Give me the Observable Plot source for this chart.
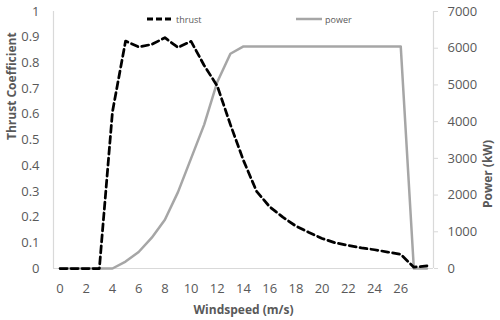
<!DOCTYPE html>
<html>
<head>
<meta charset="utf-8">
<script src="https://cdn.jsdelivr.net/npm/d3@7"></script>
<script src="https://cdn.jsdelivr.net/npm/@observablehq/plot@0.6"></script>
<style>
  body { margin: 0; background: #fff; }
  #wrap { position: relative; width: 500px; height: 320px; font-family: "Open Sans", sans-serif; }
  .leg { position: absolute; top: 12px; font-size: 9px; color: #595959; display: flex; align-items: center; }
  .leg svg { margin-right: 3px; }
</style>
</head>
<body>
<div id="wrap"></div>
<script>
const windspeed = d3.range(0, 29);
const thrust = [0, 0, 0, 0, 0.61, 0.885, 0.862, 0.872, 0.898, 0.86, 0.884, 0.79, 0.71, 0.56, 0.42, 0.30, 0.24, 0.20, 0.165, 0.14, 0.117, 0.10, 0.09, 0.08, 0.073, 0.064, 0.055, 0.005, 0.01];
const power = [0, 0, 0, 0, 0, 190, 450, 840, 1330, 2080, 3000, 3920, 5080, 5850, 6050, 6050, 6050, 6050, 6050, 6050, 6050, 6050, 6050, 6050, 6050, 6050, 6050, 0, 0];
const xTicks = d3.range(0, 27, 2);
const leftTicks = d3.range(0, 11).map(i => i / 10);
const powerTicks = d3.range(0, 8).map(i => i * 1000);
const powerMax = 7000;

const rows = windspeed.map((w, i) => ({w, thrust: thrust[i], power: power[i] / powerMax}));

const gray = "#595959";
const axisLine = "#d9d9d9";

const chart = Plot.plot({
  width: 500,
  height: 320,
  marginLeft: 53,
  marginRight: 67,
  marginTop: 11,
  marginBottom: 52,
  style: {fontFamily: "'Open Sans', sans-serif", fontSize: "13px", color: gray, background: "#fff"},
  x: {domain: [-0.5, 28.5]},
  y: {domain: [0, 1]},
  marks: [
    Plot.ruleY([0], {stroke: axisLine, strokeWidth: 1.2}),
    Plot.ruleX([-0.5, 28.5], {stroke: axisLine, strokeWidth: 1.2}),
    Plot.axisX({ticks: xTicks, tickSize: 0, tickPadding: 15, label: null, tickFormat: d => String(d)}),
    Plot.axisY({ticks: leftTicks, tickSize: 0, tickPadding: 14, label: null, tickFormat: d => String(+d.toFixed(1))}),
    Plot.axisY({anchor: "right", ticks: powerTicks.map(v => v / powerMax), tickSize: 4, tickPadding: 10, stroke: axisLine, label: null, tickFormat: d => String(Math.round(d * powerMax))}),
    Plot.line(rows, {x: "w", y: "power", stroke: "#a6a6a6", strokeWidth: 2.5}),
    Plot.line(rows, {x: "w", y: "thrust", stroke: "#000", strokeWidth: 2.75, strokeDasharray: "7,4"}),
    Plot.text(["Windspeed (m/s)"], {frameAnchor: "bottom", dy: 45, text: d => d, fontWeight: "bold", fontSize: 12, fill: gray}),
    Plot.text(["Thrust Coefficient"], {frameAnchor: "left", dx: -41, rotate: -90, text: d => d, fontWeight: "bold", fontSize: 12, fill: gray}),
    Plot.text(["Power (kW)"], {frameAnchor: "right", dx: 55, rotate: -90, text: d => d, fontWeight: "bold", fontSize: 12, fill: gray})
  ]
});

const wrap = document.getElementById("wrap");
wrap.appendChild(chart);

const legendItems = [
  {name: "thrust", left: 147, stroke: "#000", dash: "6,3", width: 3},
  {name: "power", left: 296, stroke: "#a6a6a6", dash: null, width: 2.5}
];
for (const it of legendItems) {
  const d = document.createElement("div");
  d.className = "leg";
  d.style.left = it.left + "px";
  d.innerHTML = `<svg width="26" height="14"><line x1="0" x2="26" y1="7" y2="7" stroke="${it.stroke}" stroke-width="${it.width}" ${it.dash ? `stroke-dasharray="${it.dash}"` : ""}/></svg><span>${it.name}</span>`;
  wrap.appendChild(d);
}
</script>
</body>
</html>
